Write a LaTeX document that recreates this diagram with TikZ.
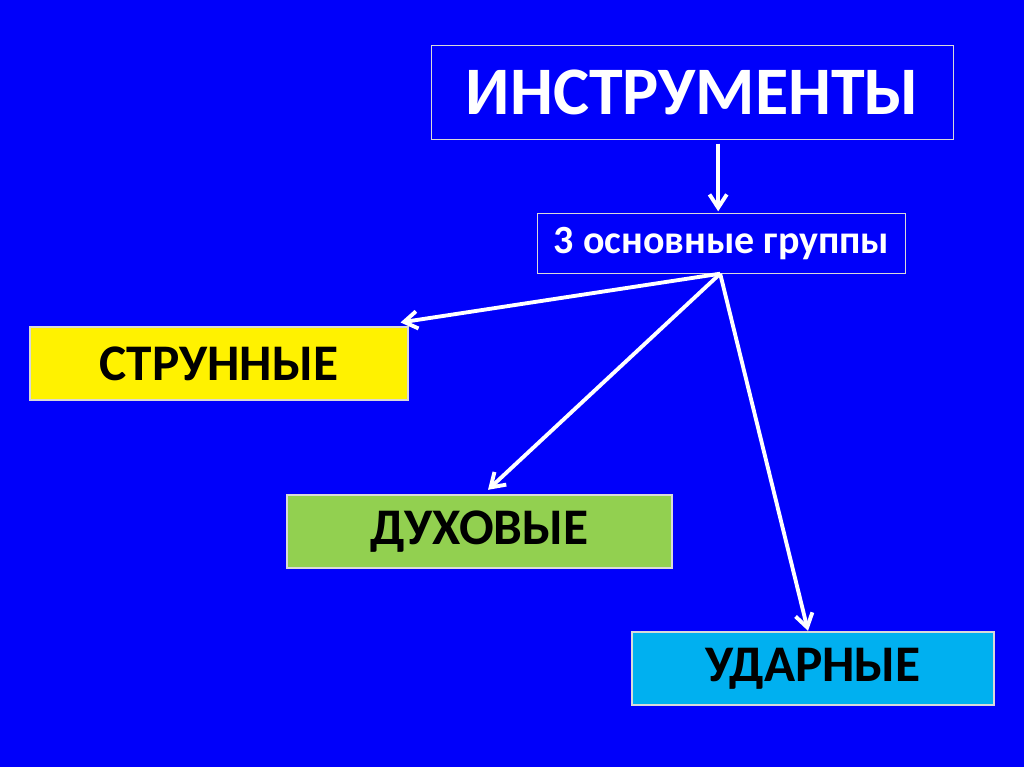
\documentclass[tikz,border=0pt]{standalone}
\usepackage{fontspec}
\setmainfont{Carlito}
\usetikzlibrary{arrows.meta}

\definecolor{slideblue}{RGB}{0,0,250}
\definecolor{boxgreen}{RGB}{146,208,80}
\definecolor{boxcyan}{RGB}{0,176,240}

\begin{document}
\begin{tikzpicture}[x=0.75pt,y=-0.75pt,
    box/.style={draw=white!85!black,line width=0.8pt,inner sep=0pt,font=\bfseries},
    group/.style={box,minimum width=283.5pt,minimum height=54.75pt,font=\bfseries\fontsize{38.5}{44}\selectfont},
    >={Straight Barb[length=10pt,width=13pt]}]
  \fill[slideblue] (0,0) rectangle (1024,767);
  \useasboundingbox (0,0) rectangle (1024,767);

  \node[box,fill=slideblue,text=white,minimum width=392pt,minimum height=70pt,
        font=\bfseries\fontsize{51}{60}\selectfont] (1) at (692.5,92.5) {ИНСТРУМЕНТЫ};
  \node[box,fill=slideblue,text=white,minimum width=276.5pt,minimum height=44.5pt,
        font=\bfseries\fontsize{30}{36}\selectfont] (2) at (721.5,243.5) {3 основные группы};

  \node[group,fill=yellow] (3) at (219,363.5) {СТРУННЫЕ};
  \node[group,fill=boxgreen,minimum width=288.75pt] (4) at (479.5,531.5) {ДУХОВЫЕ};
  \node[group,fill=boxcyan,minimum width=271.5pt] (5) at (813,668.5) {УДАРНЫЕ};

  \draw[->,white,line width=2.9pt,shorten <=3pt,shorten >=1.5pt] ([xshift=-2.5pt]1.south -| 2.north) -- ([xshift=-2.5pt]2.north);
  \draw[->,white,line width=2.9pt] ([xshift=-1pt]2.south) -- ([xshift=-6pt,yshift=3pt]3.north east);
  \draw[->,white,line width=2.9pt] ([xshift=-1pt]2.south) -- ([xshift=6.4pt,yshift=3.5pt]4.north);
  \draw[->,white,line width=2.9pt] ([xshift=-1pt]2.south) -- ([xshift=-3.75pt,yshift=0.5pt]5.north);
\end{tikzpicture}
\end{document}
